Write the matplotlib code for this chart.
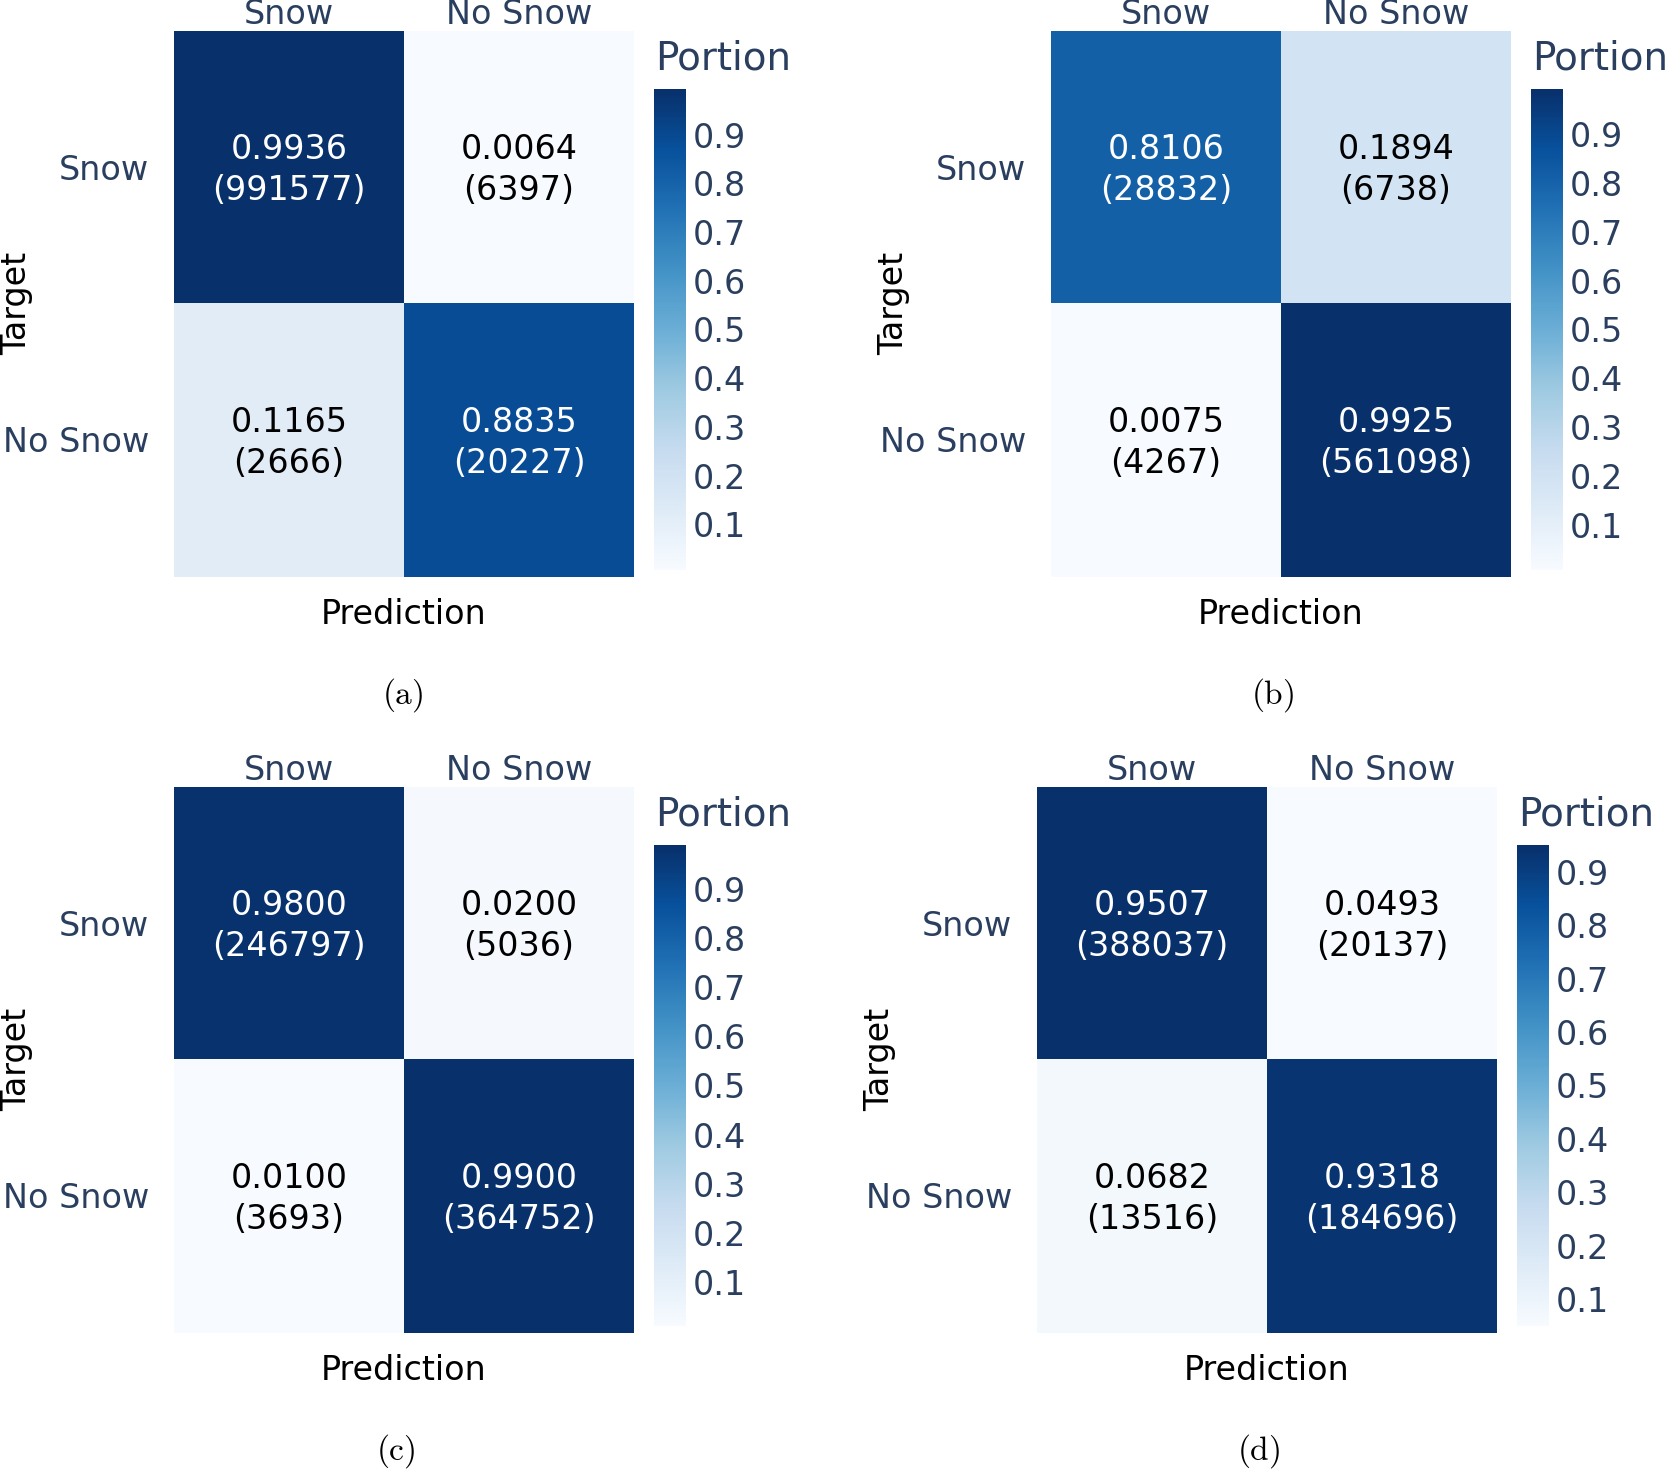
import numpy as np
import matplotlib
matplotlib.use("Agg")
import matplotlib.pyplot as plt

plt.rcParams['font.family'] = ['DejaVu Sans']
plt.rcParams['mathtext.fontset'] = 'cm'

# class labels
labels = ["Snow", "No Snow"]

# portions and counts for each confusion matrix (rows = target, cols = prediction)
portion_a = [[0.9936, 0.0064], [0.1165, 0.8835]]
count_a = [[991577, 6397], [2666, 20227]]
portion_b = [[0.8106, 0.1894], [0.0075, 0.9925]]
count_b = [[28832, 6738], [4267, 561098]]
portion_c = [[0.9800, 0.0200], [0.0100, 0.9900]]
count_c = [[246797, 5036], [3693, 364752]]
portion_d = [[0.9507, 0.0493], [0.0682, 0.9318]]
count_d = [[388037, 20137], [13516, 184696]]
captions = ["(a)", "(b)", "(c)", "(d)"]
cbar_ticks = [0.1, 0.2, 0.3, 0.4, 0.5, 0.6, 0.7, 0.8, 0.9]

W, H = 1669, 1469
fig = plt.figure(figsize=(W / 100, H / 100), dpi=100)
TICK_COLOR = '#2a3f5f'


def fx(x):
    return x / W


def fy(y):
    return 1 - y / H


def box(x0, y0, x1, y1):
    return [fx(x0), fy(y1), (x1 - x0) / W, (y1 - y0) / H]


def draw_panel(portion, count, caption, dx, dy, cap_x):
    portion = np.array(portion)
    count = np.array(count)
    ax = fig.add_axes(box(174 + dx, 31 + dy, 634 + dx, 577 + dy))
    im = ax.imshow(portion, cmap='Blues', vmin=portion.min(), vmax=portion.max(),
                   extent=[0, 2, 2, 0], aspect='auto', interpolation='nearest')
    ax.axis('off')
    for i in range(2):
        for j in range(2):
            col = 'white' if portion[i, j] > 0.5 else 'black'
            ax.text(j + 0.5, i + 0.51, f"{portion[i, j]:.4f}\n({count[i, j]})",
                    ha='center', va='center', fontsize=24, color=col,
                    linespacing=1.3)

    # column labels on top, row labels on the left
    for j, lab in enumerate(labels):
        xc = 174 + dx + 115 + j * 230
        fig.text(fx(xc), fy(15 + dy), lab, ha='center', va='center',
                 fontsize=24, color=TICK_COLOR)
    for i, lab in enumerate(labels):
        yc = 170 + dy + i * 273
        fig.text(fx(149 + dx), fy(yc), lab, ha='right', va='center',
                 fontsize=24, color=TICK_COLOR)

    fig.text(fx(0 + dx), fy(303 + dy), "Target", rotation=90, ha='left',
             va='center', fontsize=24, color='black')
    fig.text(fx(404 + dx), fy(614 + dy), "Prediction", ha='center',
             va='center', fontsize=24, color='black')

    # colorbar
    cax = fig.add_axes(box(654 + dx, 89 + dy, 686 + dx, 570 + dy))
    cb = fig.colorbar(im, cax=cax, ticks=cbar_ticks)
    cb.outline.set_visible(False)
    cax.tick_params(length=0, pad=5, labelsize=24, labelcolor=TICK_COLOR)
    fig.text(fx(655 + dx), fy(58 + dy), "Portion", ha='left', va='center',
             fontsize=28, color=TICK_COLOR)

    fig.text(fx(cap_x), fy(695 + dy), r"$\mathrm{" + caption + "}$",
             ha='center', va='center', fontsize=24, color='black')


draw_panel(portion_a, count_a, captions[0], 0, 0, 403)
draw_panel(portion_b, count_b, captions[1], 877, 0, 1273)
draw_panel(portion_c, count_c, captions[2], 0, 756, 396)
draw_panel(portion_d, count_d, captions[3], 863, 756, 1259)

fig.savefig("out.png", dpi=100)
